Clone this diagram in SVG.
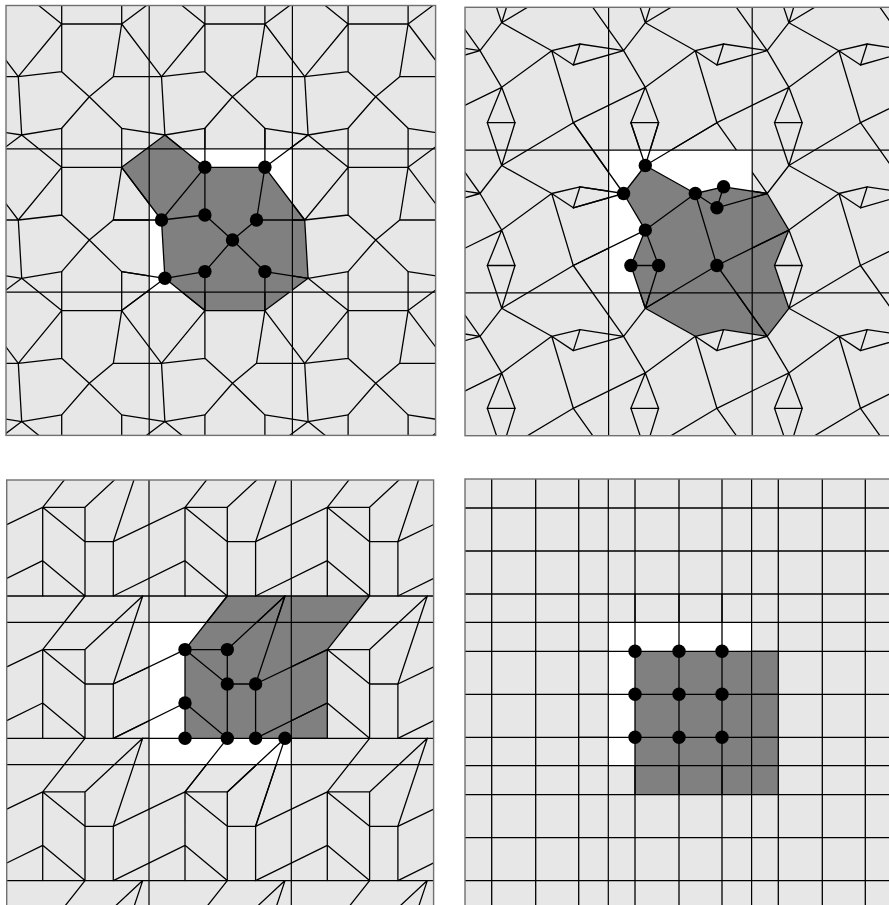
<svg xmlns="http://www.w3.org/2000/svg" width="889" height="905" viewBox="0 0 889 905">
<style>
.bg{fill:#e7e7e7}
.wh{fill:#fff}
.gr{fill:#808080}
.e{fill:none;stroke:#000;stroke-width:1.3;stroke-linecap:round}
.gl{fill:none;stroke:#000;stroke-width:1.2}
.bd{fill:none;stroke:#707070;stroke-width:1.4}
.dot{fill:#000}
</style>
<defs>
<path id="c1" class="e" d="M55.7 18.5H115.7M55.7 18.5V66.2M55.7 18.5L12.3 71.2M55.7 18.5V-20.5M55.7 18.5L15.7-13.8M115.7 18.5V-20.5M115.7 18.5L107.3 71.2M115.7 18.5L155.5 71.2M115.7 18.5L158.9-13.8M55.7 66.2L12.3 71.2M55.7 66.2L83.3 91.2M12.3 71.2L15.7 129.5M107.3 71.2H155.5M107.3 71.2L83.3 91.2M83.3 91.2L55.7 122.8M83.3 91.2L115.7 122.8M55.7 122.8L15.7 129.5M115.7 122.8L158.9 129.5"/>
<path id="c2" class="e" d="M36.7 15.4L15 43.4M36.7 15.4L86.7 43.4M36.7 15.4L22.3-27.4M36.7 15.4L50-27.4M36.7 15.4L108.3-27.4M15 43.4L36.7 80M15 43.4L-28.6 36.7M15 43.4L-35.3 57.7M15 43.4L-35.3-27.4M86.7 43.4L115 36.7M86.7 43.4L108.3 57.7M86.7 43.4L36.7 80M86.7 43.4L108.3 115.4M115 36.7L108.3 57.7M36.7 80L22.3 115.4M36.7 80L50 115.4M22.3 115.4H50M36.7 80L-35.3 115.4"/>
<path id="c3" class="e" d="M36 27.3H78.3M36 27.3V116M36 27.3L78.3 61.7M36 27.3L78.3-26.3M36 27.3L-35.7 61.7M78.3 27.3V116M78.3 27.3L136-26.3M78.3 61.7H106.6M106.6 61.7V116M106.6 61.7L136-26.3M36 80.7L78.3 116M36 80.7L-35.7 116M36 116H178.3"/>
<clipPath id="k1"><rect x="6" y="5.5" width="429.6" height="429.9"/></clipPath>
<clipPath id="k1w"><path clip-rule="evenodd" d="M6 5.5H435.6V435.4H6Z M149.2 148.8H292.4V292.1H149.2Z"/></clipPath>
<clipPath id="k2"><rect x="465" y="7.3" width="430.8" height="428.4"/></clipPath>
<clipPath id="k2w"><path clip-rule="evenodd" d="M465 7.3H895.8V435.7H465Z M608.6 150.1H752.2V292.9H608.6Z"/></clipPath>
<clipPath id="k3"><rect x="6.7" y="480" width="426.9" height="426.9"/></clipPath>
<clipPath id="k3w"><path clip-rule="evenodd" d="M6.7 480H433.6V906.9H6.7Z M149 622.3H291.3V764.6H149Z"/></clipPath>
<clipPath id="k4"><rect x="465" y="479" width="430" height="430"/></clipPath>
<clipPath id="k4w"><path clip-rule="evenodd" d="M465 479H895V909H465Z M608.3 622.3H751.6V765.6H608.3Z"/></clipPath>
</defs>

<!-- Panel 1 -->
<g id="panel1">
<rect class="bg" x="6" y="5.5" width="429.6" height="429.9"/>
<rect class="wh" x="149.2" y="148.8" width="143.2" height="143.3"/>
<path id="p1-region" class="gr" d="M121.7 167.3L164.9 135L204.9 167.3L264.9 167.3L304.7 220L308.1 278.3L264.9 310.6L204.9 310.6L164.9 278.3L161.5 220Z"/>
<g id="p1-tiling" clip-path="url(#k1w)">
<use href="#c1" transform="translate(-137.2 -137.8)"/><use href="#c1" transform="translate(6 -137.8)"/><use href="#c1" transform="translate(149.2 -137.8)"/><use href="#c1" transform="translate(292.4 -137.8)"/><use href="#c1" transform="translate(435.6 -137.8)"/>
<use href="#c1" transform="translate(-137.2 5.5)"/><use href="#c1" transform="translate(6 5.5)"/><use href="#c1" transform="translate(149.2 5.5)"/><use href="#c1" transform="translate(292.4 5.5)"/><use href="#c1" transform="translate(435.6 5.5)"/>
<use href="#c1" transform="translate(-137.2 148.8)"/><use href="#c1" transform="translate(6 148.8)"/><use href="#c1" transform="translate(149.2 148.8)"/><use href="#c1" transform="translate(292.4 148.8)"/><use href="#c1" transform="translate(435.6 148.8)"/>
<use href="#c1" transform="translate(-137.2 292.1)"/><use href="#c1" transform="translate(6 292.1)"/><use href="#c1" transform="translate(149.2 292.1)"/><use href="#c1" transform="translate(292.4 292.1)"/><use href="#c1" transform="translate(435.6 292.1)"/>
<use href="#c1" transform="translate(-137.2 435.4)"/><use href="#c1" transform="translate(6 435.4)"/><use href="#c1" transform="translate(149.2 435.4)"/><use href="#c1" transform="translate(292.4 435.4)"/><use href="#c1" transform="translate(435.6 435.4)"/>
</g>
<g id="p1-connectors" clip-path="url(#k1)">
<use href="#c1" transform="translate(149.2 148.8)"/>
<path class="e" d="M204.9 310.6V271.6M204.9 310.6L164.9 278.3M264.9 310.6V271.6M121.7 167.3L161.5 220M113.3 220H161.5M121.7 310.6L164.9 278.3M121.7 271.6L164.9 278.3"/>
</g>
<path class="gl" d="M149.2 5.5V435.4M292.4 5.5V435.4M6 148.8H435.6M6 292.1H435.6"/>
<rect class="bd" x="6" y="5.5" width="429.6" height="429.9"/>
<g id="p1-nodes" class="dot">
<circle id="p1-n1" cx="204.9" cy="167.3" r="6.7"/><circle id="p1-n2" cx="264.9" cy="167.3" r="6.7"/><circle id="p1-n3" cx="204.9" cy="215" r="6.7"/>
<circle id="p1-n4" cx="161.5" cy="220" r="6.7"/><circle id="p1-n5" cx="256.5" cy="220" r="6.7"/><circle id="p1-n6" cx="232.5" cy="240" r="6.7"/>
<circle id="p1-n7" cx="204.9" cy="271.6" r="6.7"/><circle id="p1-n8" cx="264.9" cy="271.6" r="6.7"/><circle id="p1-n9" cx="164.9" cy="278.3" r="6.7"/>
</g>
</g>

<!-- Panel 2 -->
<g id="panel2">
<rect class="bg" x="465" y="7.3" width="430.8" height="428.4"/>
<rect class="wh" x="608.6" y="150.1" width="143.6" height="142.8"/>
<path id="p2-region" class="gr" d="M645.3 165.5L695.3 193.5L723.6 186.8L767.2 193.5L788.9 230.1L774.5 265.5L788.9 308.3L767.2 336.3L723.6 329.6L695.3 336.3L645.3 308.3L630.9 265.5L645.3 230.1L623.6 193.5Z"/>
<g id="p2-tiling" clip-path="url(#k2w)">
<use href="#c2" transform="translate(321.4 -135.5)"/><use href="#c2" transform="translate(465 -135.5)"/><use href="#c2" transform="translate(608.6 -135.5)"/><use href="#c2" transform="translate(752.2 -135.5)"/><use href="#c2" transform="translate(895.8 -135.5)"/>
<use href="#c2" transform="translate(321.4 7.3)"/><use href="#c2" transform="translate(465 7.3)"/><use href="#c2" transform="translate(608.6 7.3)"/><use href="#c2" transform="translate(752.2 7.3)"/><use href="#c2" transform="translate(895.8 7.3)"/>
<use href="#c2" transform="translate(321.4 150.1)"/><use href="#c2" transform="translate(465 150.1)"/><use href="#c2" transform="translate(608.6 150.1)"/><use href="#c2" transform="translate(752.2 150.1)"/><use href="#c2" transform="translate(895.8 150.1)"/>
<use href="#c2" transform="translate(321.4 292.9)"/><use href="#c2" transform="translate(465 292.9)"/><use href="#c2" transform="translate(608.6 292.9)"/><use href="#c2" transform="translate(752.2 292.9)"/><use href="#c2" transform="translate(895.8 292.9)"/>
<use href="#c2" transform="translate(321.4 435.7)"/><use href="#c2" transform="translate(465 435.7)"/><use href="#c2" transform="translate(608.6 435.7)"/><use href="#c2" transform="translate(752.2 435.7)"/><use href="#c2" transform="translate(895.8 435.7)"/>
</g>
<g id="p2-connectors" clip-path="url(#k2)">
<use href="#c2" transform="translate(608.6 150.1)"/>
<path class="e" d="M645.3 308.3L630.9 265.5M645.3 308.3L658.6 265.5M645.3 308.3L716.9 265.5M767.2 193.5L723.6 186.8M767.2 193.5L716.9 207.8M767.2 336.3L716.9 265.5M788.9 230.1L716.9 265.5"/>
</g>
<path class="gl" d="M608.6 7.3V435.7M752.2 7.3V435.7M465 150.1H895.8M465 292.9H895.8"/>
<rect class="bd" x="465" y="7.3" width="430.8" height="428.4"/>
<g id="p2-nodes" class="dot">
<circle id="p2-n1" cx="645.3" cy="165.5" r="6.7"/><circle id="p2-n2" cx="623.6" cy="193.5" r="6.7"/><circle id="p2-n3" cx="695.3" cy="193.5" r="6.7"/>
<circle id="p2-n4" cx="723.6" cy="186.8" r="6.7"/><circle id="p2-n5" cx="716.9" cy="207.8" r="6.7"/><circle id="p2-n6" cx="645.3" cy="230.1" r="6.7"/>
<circle id="p2-n7" cx="630.9" cy="265.5" r="6.7"/><circle id="p2-n8" cx="658.6" cy="265.5" r="6.7"/><circle id="p2-n9" cx="716.9" cy="265.5" r="6.7"/>
</g>
</g>

<!-- Panel 3 -->
<g id="panel3">
<rect class="bg" x="6.7" y="480" width="426.9" height="426.9"/>
<rect class="wh" x="149" y="622.3" width="142.3" height="142.3"/>
<path id="p3-region" class="gr" d="M227.3 596L369.6 596L327.3 649.6L327.3 738.3L185 738.3L185 649.6Z"/>
<g id="p3-tiling" clip-path="url(#k3w)">
<use href="#c3" transform="translate(-135.6 337.7)"/><use href="#c3" transform="translate(6.7 337.7)"/><use href="#c3" transform="translate(149 337.7)"/><use href="#c3" transform="translate(291.3 337.7)"/><use href="#c3" transform="translate(433.6 337.7)"/>
<use href="#c3" transform="translate(-135.6 480)"/><use href="#c3" transform="translate(6.7 480)"/><use href="#c3" transform="translate(149 480)"/><use href="#c3" transform="translate(291.3 480)"/><use href="#c3" transform="translate(433.6 480)"/>
<use href="#c3" transform="translate(-135.6 622.3)"/><use href="#c3" transform="translate(6.7 622.3)"/><use href="#c3" transform="translate(149 622.3)"/><use href="#c3" transform="translate(291.3 622.3)"/><use href="#c3" transform="translate(433.6 622.3)"/>
<use href="#c3" transform="translate(-135.6 764.6)"/><use href="#c3" transform="translate(6.7 764.6)"/><use href="#c3" transform="translate(149 764.6)"/><use href="#c3" transform="translate(291.3 764.6)"/><use href="#c3" transform="translate(433.6 764.6)"/>
<use href="#c3" transform="translate(-135.6 906.9)"/><use href="#c3" transform="translate(6.7 906.9)"/><use href="#c3" transform="translate(149 906.9)"/><use href="#c3" transform="translate(291.3 906.9)"/><use href="#c3" transform="translate(433.6 906.9)"/>
</g>
<g id="p3-connectors" clip-path="url(#k3)">
<use href="#c3" transform="translate(149 622.3)"/>
<path class="e" d="M185 791.9L227.3 738.3M327.3 649.6L255.6 684M227.3 791.9L285 738.3M255.6 826.3L285 738.3M327.3 703L255.6 738.3M142.7 738.3H185"/>
</g>
<path class="gl" d="M149 480V906.9M291.3 480V906.9M6.7 622.3H433.6M6.7 764.6H433.6"/>
<rect class="bd" x="6.7" y="480" width="426.9" height="426.9"/>
<g id="p3-nodes" class="dot">
<circle id="p3-n1" cx="185" cy="649.6" r="6.7"/><circle id="p3-n2" cx="227.3" cy="649.6" r="6.7"/><circle id="p3-n3" cx="227.3" cy="684" r="6.7"/>
<circle id="p3-n4" cx="255.6" cy="684" r="6.7"/><circle id="p3-n5" cx="185" cy="703" r="6.7"/><circle id="p3-n6" cx="185" cy="738.3" r="6.7"/>
<circle id="p3-n7" cx="227.3" cy="738.3" r="6.7"/><circle id="p3-n8" cx="255.6" cy="738.3" r="6.7"/><circle id="p3-n9" cx="285" cy="738.3" r="6.7"/>
</g>
</g>

<!-- Panel 4 -->
<g id="panel4">
<rect class="bg" x="465" y="479" width="430" height="430"/>
<rect class="wh" x="608.3" y="622.3" width="143.3" height="143.3"/>
<rect id="p4-region" class="gr" x="635" y="651.3" width="143.3" height="143.3"/>
<g id="p4-tiling" clip-path="url(#k4w)">
<path class="e" d="M491.7 479V909M535.7 479V909M578.7 479V909M635 479V909M679 479V909M722 479V909M778.3 479V909M822.3 479V909M865.3 479V909M465 508H895M465 551H895M465 594H895M465 651.3H895M465 694.3H895M465 737.3H895M465 794.6H895M465 837.6H895M465 880.6H895"/>
</g>
<g id="p4-connectors" clip-path="url(#k4)">
<path class="e" d="M578.7 651.3H778.3M578.7 694.3H778.3M578.7 737.3H778.3M635 594V794.6M679 594V794.6M722 594V794.6"/>
</g>
<path class="gl" d="M608.3 479V909M751.6 479V909M465 622.3H895M465 765.6H895"/>
<rect class="bd" x="465" y="479" width="430" height="430"/>
<g id="p4-nodes" class="dot">
<circle id="p4-n1" cx="635" cy="651.3" r="6.7"/><circle id="p4-n2" cx="679" cy="651.3" r="6.7"/><circle id="p4-n3" cx="722" cy="651.3" r="6.7"/>
<circle id="p4-n4" cx="635" cy="694.3" r="6.7"/><circle id="p4-n5" cx="679" cy="694.3" r="6.7"/><circle id="p4-n6" cx="722" cy="694.3" r="6.7"/>
<circle id="p4-n7" cx="635" cy="737.3" r="6.7"/><circle id="p4-n8" cx="679" cy="737.3" r="6.7"/><circle id="p4-n9" cx="722" cy="737.3" r="6.7"/>
</g>
</g>
</svg>
